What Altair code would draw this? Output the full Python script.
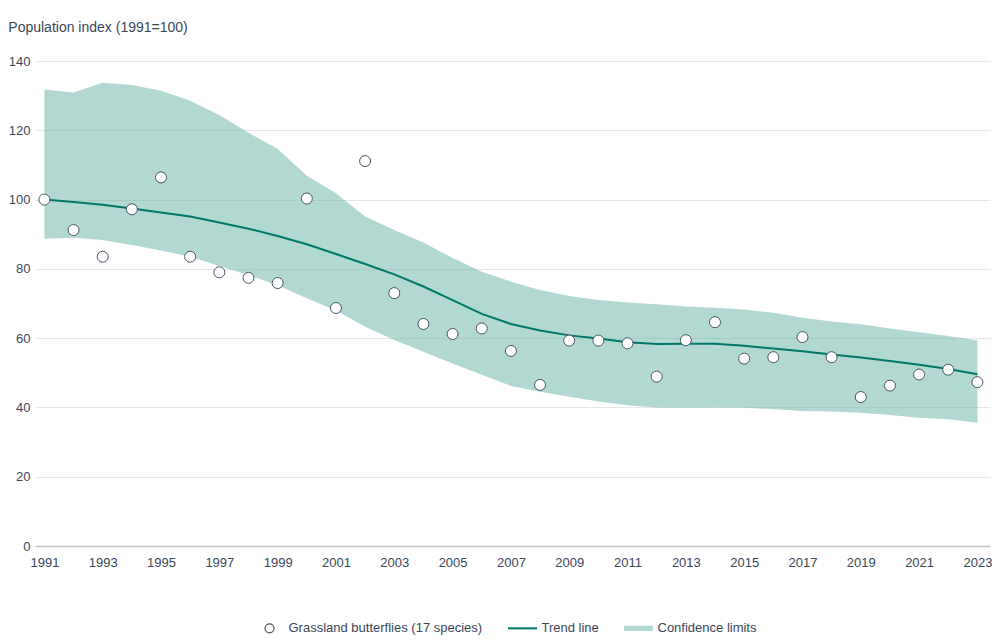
import altair as alt
import pandas as pd

years = list(range(1991, 2024))
index_values = [100, 91.2, 83.5, 97.2, 106.4, 83.5, 79.0, 77.4, 75.9, 100.3, 68.7, 111.1,
                73.0, 64.1, 61.2, 62.8, 56.3, 46.5, 59.3, 59.3, 58.5, 48.9, 59.4, 64.6,
                54.1, 54.5, 60.3, 54.5, 43.0, 46.3, 49.5, 50.9, 47.3]
trend = [100, 99.3, 98.5, 97.4, 96.3, 95.1, 93.4, 91.6, 89.5, 87.1, 84.3, 81.4,
         78.4, 74.9, 71.0, 67.0, 64.1, 62.2, 60.8, 59.9, 58.8, 58.3, 58.4, 58.4,
         57.8, 57.0, 56.2, 55.3, 54.4, 53.4, 52.3, 51.1, 49.6]
upper = [131.8, 130.9, 133.7, 133.1, 131.4, 128.5, 124.4, 119.3, 114.6, 106.9, 101.8, 95.1,
         91.2, 87.6, 83.1, 79.2, 76.3, 73.9, 72.2, 71.0, 70.3, 69.8, 69.1, 68.8,
         68.3, 67.3, 65.9, 64.8, 64.0, 62.8, 61.7, 60.6, 59.3]
lower = [88.7, 89.0, 88.3, 86.9, 85.3, 83.5, 80.8, 78.2, 75.3, 71.5, 68.0, 63.3,
         59.5, 56.1, 52.7, 49.4, 46.2, 44.5, 43.1, 41.7, 40.6, 40.0, 39.9, 40.0,
         39.9, 39.5, 39.0, 38.8, 38.5, 37.8, 37.0, 36.6, 35.6]

series_names = ["Grassland butterflies (17 species)", "Trend line", "Confidence limits"]
x_ticks = list(range(1991, 2024, 2))
y_ticks = [0, 20, 40, 60, 80, 100, 120, 140]

FONT = "Liberation Sans, Arial, sans-serif"
TEXT = "#3a4759"
LINE = "#00786a"
BAND = "#65b1a5"
PT_STROKE = "#465468"

df = pd.DataFrame({"year": years, "index": index_values, "trend": trend,
                   "upper": upper, "lower": lower})
legend_df = pd.DataFrame({"series": series_names, "year": [1900] * 3, "index": [50] * 3})

x_scale = alt.Scale(domain=[1990.678, 2023.432], nice=False, zero=False)
y_scale = alt.Scale(domain=[0, 140], nice=False)

x_axis = alt.Axis(values=x_ticks, format="d", title=None, grid=False, ticks=False,
                  tickSize=0, labelPadding=10, domainColor="#c4c4c4", domainWidth=1.5,
                  labelFontSize=13, labelColor=TEXT, labelFont=FONT, labelFlush=False)
y_axis = alt.Axis(values=y_ticks, title=None, grid=True, gridColor="#e6e6e6",
                  domain=False, ticks=False, tickSize=0, labelPadding=5,
                  labelFontSize=13, labelColor=TEXT, labelFont=FONT)

base = alt.Chart(df)

band = base.mark_area(fill=BAND, opacity=0.5).encode(
    x=alt.X("year:Q", scale=x_scale, axis=x_axis),
    y=alt.Y("lower:Q", scale=y_scale, axis=y_axis),
    y2="upper:Q",
)

line = base.mark_line(color=LINE, strokeWidth=2).encode(
    x=alt.X("year:Q", scale=x_scale),
    y=alt.Y("trend:Q", scale=y_scale),
)

points = base.mark_circle(size=121, fill="white", stroke=PT_STROKE, strokeWidth=1,
                          opacity=1).encode(
    x=alt.X("year:Q", scale=x_scale),
    y=alt.Y("index:Q", scale=y_scale),
)

shapes = [
    "M0.31,0A0.31,0.31,0,1,1,-0.31,0A0.31,0.31,0,1,1,0.31,0Z",
    "M-1,-0.07H1V0.07H-1Z",
    "M-1,-0.18H1V0.18H-1Z",
]

legend = alt.Legend(title=None, orient="none", legendX=219, legendY=551.6,
                    direction="horizontal", columnPadding=22, labelOffset=3.5,
                    symbolSize=841, symbolStrokeWidth=1.2, labelFontSize=13,
                    labelColor=TEXT, labelFont=FONT, labelLimit=400)

legend_layer = alt.Chart(legend_df).mark_point(clip=True, size=841, opacity=1,
                                               strokeWidth=1.2).encode(
    x=alt.X("year:Q", scale=x_scale),
    y=alt.Y("index:Q", scale=y_scale),
    shape=alt.Shape("series:N", scale=alt.Scale(domain=series_names, range=shapes),
                    legend=legend, sort=series_names),
    fill=alt.Fill("series:N", scale=alt.Scale(domain=series_names,
                                              range=["white", LINE, "#b2d8d2"]),
                  legend=legend, sort=series_names),
    stroke=alt.Stroke("series:N", scale=alt.Scale(domain=series_names,
                                                  range=[PT_STROKE, "transparent", "transparent"]),
                      legend=legend, sort=series_names),
)

chart = alt.layer(band, line, points, legend_layer).properties(
    width=955,
    height=485,
    padding={"left": 0, "top": 13, "right": 0, "bottom": 0},
    title=alt.TitleParams("Population index (1991=100)", anchor="start", frame="bounds",
                          fontSize=14, fontWeight="normal", color=TEXT, font=FONT,
                          offset=20),
).configure_view(stroke=None)

chart.save("out.html", embed_options={"renderer": "svg", "actions": False})
